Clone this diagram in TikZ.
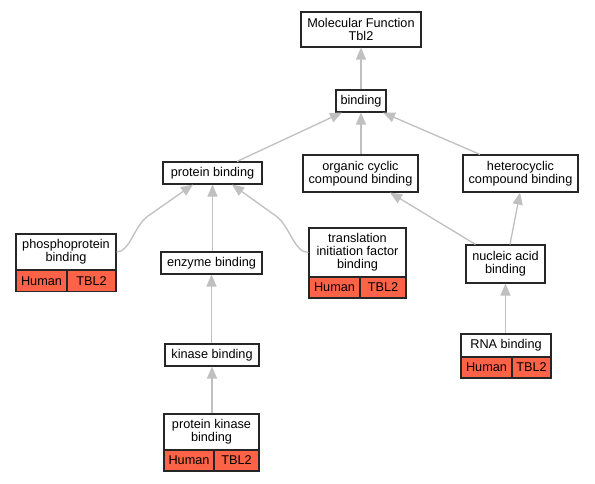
\documentclass[tikz,border=0pt]{standalone}
\usepackage{fontspec}
\setmainfont{Liberation Sans}
\usetikzlibrary{arrows.meta,calc}
\definecolor{edgegray}{HTML}{C0C0C0}
\definecolor{cellred}{HTML}{FF6347}
\begin{document}
\begin{tikzpicture}[x=1pt,y=-1pt,
  box/.style={draw=black!85, line width=1.1pt, fill=white, inner sep=0pt, align=center,
    font=\fontsize{12.7}{13}\selectfont},
  cell/.style={box, fill=cellred, minimum height=21pt},
  edge/.style={draw=edgegray, line width=1.3pt, -{Triangle[length=12pt,width=10pt]}}]
\fill[white] (0,0) rectangle (595,483);
\useasboundingbox (0,0) rectangle (595,483);
% nodes
\node[box, minimum width=120pt, minimum height=35pt] (mf) at (361,29.5) {Molecular Function\\Tbl2};
\node[box, minimum width=50pt, minimum height=22pt] (bind) at (361,101) {binding};
\node[box, minimum width=99pt, minimum height=22pt] (pb) at (212.5,173) {protein binding};
\node[box, minimum width=115pt, minimum height=37pt] (occ) at (360.5,173.5) {organic cyclic\\compound binding};
\node[box, minimum width=115pt, minimum height=37pt] (hcb) at (520.5,173.5) {heterocyclic\\compound binding};
\node[box, minimum width=100pt, minimum height=36pt] (pp) at (66,252) {phosphoprotein\\binding};
\node[cell, minimum width=51pt] (pph) at (41.5,281) {Human};
\node[cell, minimum width=49pt] (ppt) at (91.5,281) {TBL2};
\node[box, minimum width=101pt, minimum height=22pt] (eb) at (211.5,263) {enzyme binding};
\node[box, minimum width=97pt, minimum height=49pt] (tr) at (357.5,252.5) {translation\\initiation factor\\binding};
\node[cell, minimum width=51pt] (trh) at (334.5,287.5) {Human};
\node[cell, minimum width=46pt] (trt) at (383,287.5) {TBL2};
\node[box, minimum width=79pt, minimum height=38pt] (na) at (505.5,264) {nucleic acid\\binding};
\node[box, minimum width=90pt, minimum height=23pt] (rna) at (506,345.5) {RNA binding};
\node[cell, minimum width=51pt] (rnah) at (486.5,367.5) {Human};
\node[cell, minimum width=39pt] (rnat) at (531.5,367.5) {TBL2};
\node[box, minimum width=94pt, minimum height=22pt] (kb) at (212,355) {kinase binding};
\node[box, minimum width=95pt, minimum height=36pt] (pkb) at (211.5,432) {protein kinase\\binding};
\node[cell, minimum width=50pt] (pkbh) at (189,460.5) {Human};
\node[cell, minimum width=45pt] (pkbt) at (236.5,460.5) {TBL2};
% edges
\draw[edge] (bind.north |- bind.north) -- (mf.south -| bind.north);
\draw[edge] ($(pb.north)+(24.5,0)$) -- ($(bind.south)+(-19,0)$);
\draw[edge] (bind.south |- occ.north) -- (bind.south);
\draw[edge] ($(hcb.north)+(-40.5,0)$) -- ($(bind.south)+(22,0)$);
\coordinate (ppk) at (148,216);
\draw[edge] (pp.east) .. controls (130,252) and (134,226) .. (ppk) -- ($(pb.south)+(-19.5,0)$);
\coordinate (trk) at (276,216);
\draw[edge] (tr.west) .. controls (294,252.5) and (290,226) .. (trk) -- ($(pb.south)+(19.5,0)$);
\draw[edge] (pb.south |- eb.north) -- (pb.south);
\draw[edge] ($(na.north)+(-30,0)$) -- ($(occ.south)+(29.5,0)$);
\draw[edge] ($(na.north)+(4.5,0)$) -- ($(hcb.south)+(-0.5,0)$);
\draw[edge] (eb.south |- kb.north) -- (eb.south);
\draw[edge] (kb.south |- pkb.north) -- (kb.south);
\draw[edge] (na.south |- rna.north) -- (na.south);
\end{tikzpicture}
\end{document}
